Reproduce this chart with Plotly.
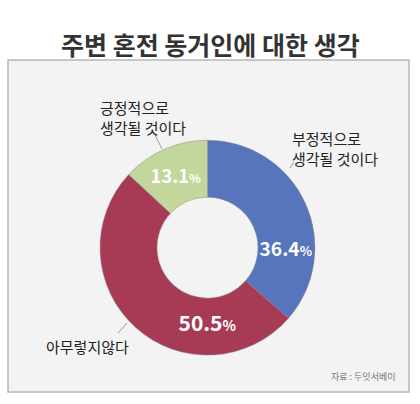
import plotly.graph_objects as go

labels = ["부정적으로 생각될 것이다", "아무렇지않다", "긍정적으로 생각될 것이다"]
values = [36.4, 50.5, 13.1]
colors = ["#5675bd", "#a73a55", "#c3d69b"]

FONT = "Noto Sans CJK KR"
W, H = 420, 404

def px(x, y):
    return x / W, 1 - y / H

slice_text = [f"{v}<span style='font-size:14px'>%</span>" for v in values]

fig = go.Figure(go.Pie(
    labels=labels, values=values, hole=0.47, sort=False, direction="clockwise",
    rotation=0, marker=dict(colors=colors, line=dict(color="#888888", width=0.5)),
    text=slice_text, texttemplate="%{text}", textposition="inside",
    insidetextorientation="horizontal",
    textfont=dict(family=FONT, size=21, color="white", weight="bold"),
    domain=dict(x=[0.238, 0.75], y=[0.121, 0.653]), showlegend=False,
))

# rounded frame
x0, y0 = px(8, 60)
x1, y1 = px(409, 392)
fig.add_shape(type="rect", xref="paper", yref="paper", x0=x0, x1=x1, y0=y1, y1=y0,
              fillcolor="#f3f3f3", line=dict(color="#b8b8b8", width=1.5), layer="below")

# leader lines
for a, b in [((155, 135), (162, 149)), ((294, 162), (290, 168)), ((127, 323), (118, 333))]:
    ax, ay = px(*a)
    bx, by = px(*b)
    fig.add_shape(type="line", xref="paper", yref="paper", x0=ax, y0=ay, x1=bx, y1=by,
                  line=dict(color="#999999", width=1))

def note(text, x, y, size=15, color="#222222", anchor="left"):
    ax, ay = px(x, y)
    fig.add_annotation(text=text, x=ax, y=ay, xref="paper", yref="paper", showarrow=False,
                       xanchor=anchor, yanchor="middle", align="left",
                       font=dict(family=FONT, size=size, color=color))

note("긍정적으로<br>생각될 것이다", 98, 117)
note("부정적으로<br>생각될 것이다", 290, 148)
note("아무렇지않다", 44, 346)
note("자료 : 두잇서베이", 398, 376, size=9, color="#777777", anchor="right")

tx, ty = px(210, 24)
fig.add_annotation(text="<b>주변 혼전 동거인에 대한 생각</b>", x=tx, y=ty, xref="paper", yref="paper",
                   showarrow=False, font=dict(family=FONT, size=25, color="#333333"))

fig.update_layout(width=W, height=H, margin=dict(l=0, r=0, t=0, b=0),
                  paper_bgcolor="white", plot_bgcolor="white")
fig.write_html("out.html", config={"displayModeBar": False},
               post_script="document.body.style.margin='0';")
